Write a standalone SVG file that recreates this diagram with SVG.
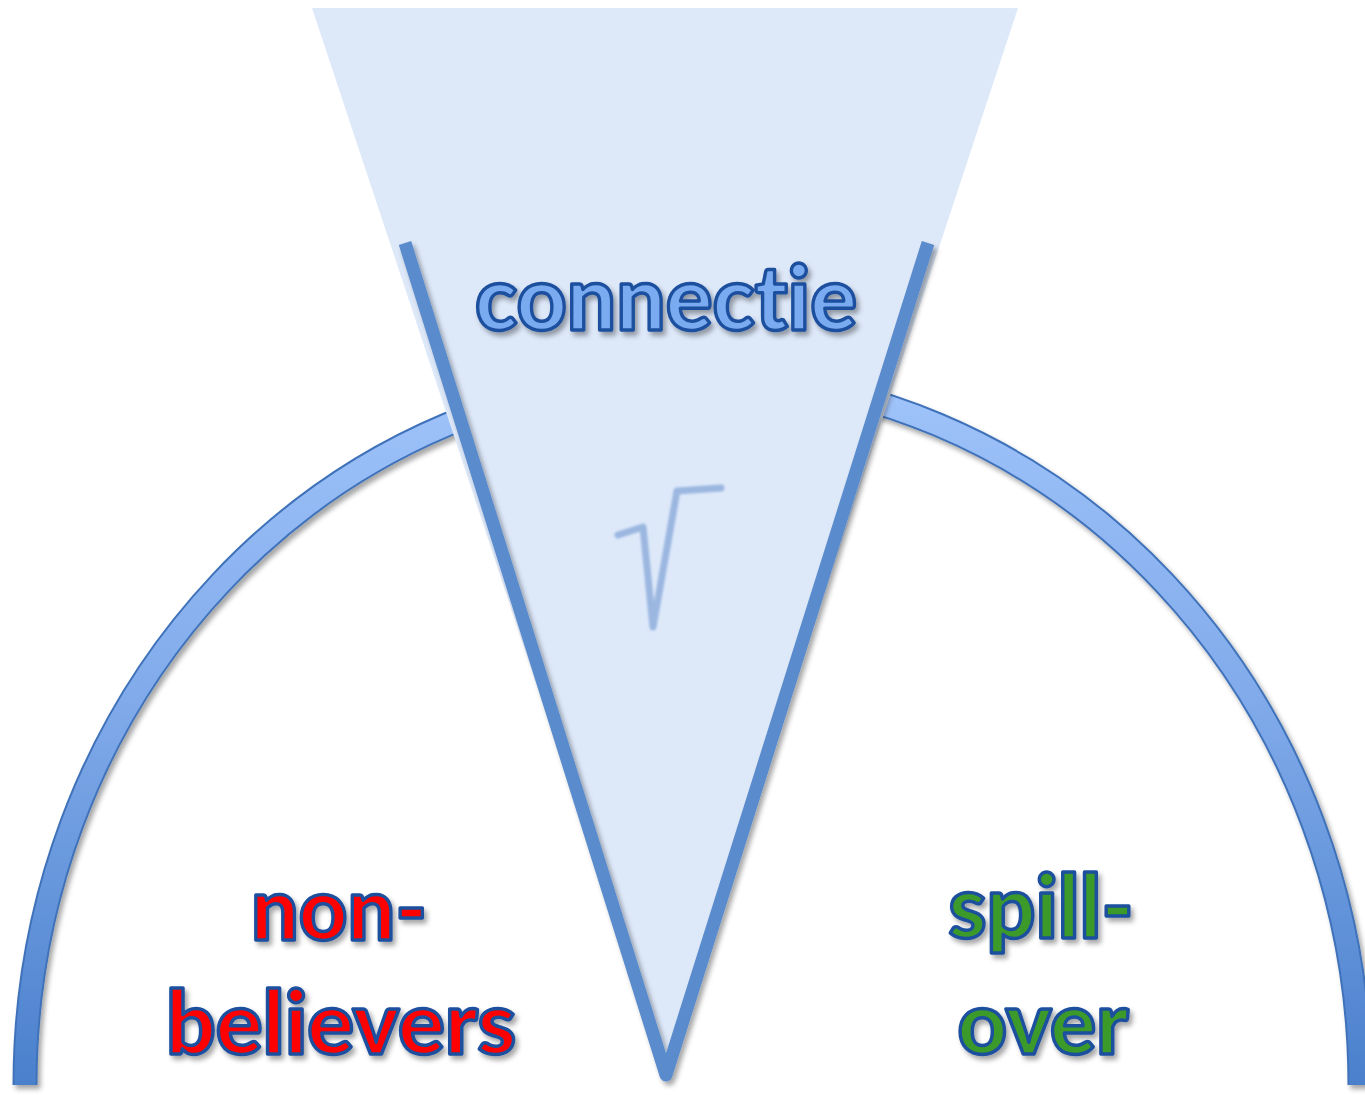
<svg xmlns="http://www.w3.org/2000/svg" width="1365" height="1095" viewBox="0 0 1365 1095">
<defs>
<linearGradient id="arcGrad" gradientUnits="userSpaceOnUse" x1="0" y1="390" x2="0" y2="1085">
<stop offset="0" stop-color="#9fc3fa"/>
<stop offset="0.45" stop-color="#80aaea"/>
<stop offset="1" stop-color="#4a80cc"/>
</linearGradient>
<filter id="shadow" x="-10%" y="-10%" width="120%" height="120%">
<feDropShadow dx="3" dy="4" stdDeviation="2.5" flood-color="#000" flood-opacity="0.35"/>
</filter>
<filter id="soft" x="-20%" y="-20%" width="140%" height="140%">
<feGaussianBlur stdDeviation="0.8"/>
</filter>
</defs>
<style>
.lbl{font-family:Lato,"Open Sans","Liberation Sans",sans-serif;font-weight:900;text-anchor:middle;stroke:#1d4f9e;stroke-width:3.5;stroke-linejoin:round;font-variant-ligatures:none;font-feature-settings:"liga" 0;}
</style>
<rect width="1365" height="1095" fill="#ffffff"/>
<g id="arc" filter="url(#shadow)">
<path d="M25,1085 A667.5,710 0 0 1 1360,1085" fill="none" stroke="#3f72ba" stroke-width="25"/>
<path d="M25,1085 A667.5,710 0 0 1 1360,1085" fill="none" stroke="url(#arcGrad)" stroke-width="21"/>
</g>
<g id="funnel">
<polygon points="312,8 1018,8 666,1075" fill="#dde8f9"/>
<polyline points="405,243 666,1075 928,243" fill="none" stroke="#5a8bcc" stroke-width="13" stroke-linejoin="round" filter="url(#shadow)"/>
</g>
<g id="sqrt">
<polyline points="618,535 643,527 653,627 677,491 721,488" fill="none" stroke="#9bb7e0" stroke-width="7" stroke-linecap="round" stroke-linejoin="round" filter="url(#soft)"/>
</g>
<g id="connectie" filter="url(#shadow)">
<text class="lbl" x="666" y="330" font-size="90" fill="#7aabf0" textLength="382" lengthAdjust="spacingAndGlyphs">connectie</text>
</g>
<g id="nonbelievers" filter="url(#shadow)">
<text class="lbl" x="339" y="940" font-size="87" fill="#ff0000" textLength="176" lengthAdjust="spacingAndGlyphs">non-</text>
<text class="lbl" x="341" y="1054" font-size="87" fill="#ff0000" textLength="350" lengthAdjust="spacingAndGlyphs">believers</text>
</g>
<g id="spillover" filter="url(#shadow)">
<text class="lbl" x="1041" y="938" font-size="87" fill="#3a9a2a" textLength="185" lengthAdjust="spacingAndGlyphs">spill-</text>
<text class="lbl" x="1043" y="1054" font-size="87" fill="#3a9a2a" textLength="171" lengthAdjust="spacingAndGlyphs">over</text>
</g>
</svg>
